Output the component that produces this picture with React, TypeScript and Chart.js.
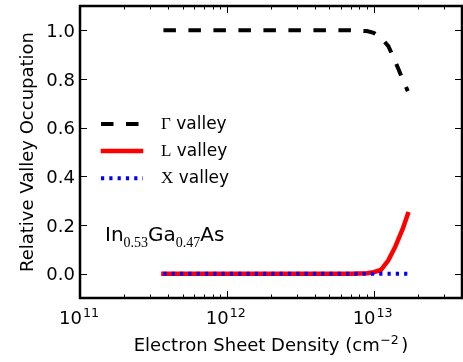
import React, { useEffect, useRef } from "react";
import { Chart, registerables } from "chart.js";

Chart.register(...registerables);

// ---- data ----
const DENSITY = [3.7e11, 5e11, 7e11, 1e12, 2e12, 3e12, 5e12, 7e12, 9e12, 1e13, 1.12e13, 1.26e13, 1.41e13, 1.58e13, 1.71e13];
const GAMMA = [1.0, 1.0, 1.0, 1.0, 1.0, 1.0, 1.0, 1.0, 0.997, 0.99, 0.97, 0.935, 0.87, 0.797, 0.75];
const L_VALLEY = [0, 0, 0, 0, 0, 0, 0, 0, 0.002, 0.006, 0.015, 0.055, 0.113, 0.185, 0.245];
const X_VALLEY = [0, 0, 0, 0, 0, 0, 0, 0, 0, 0, 0, 0, 0, 0, 0];

const X_MAJOR = [1e11, 1e12, 1e13];
const Y_TICKS = [0.0, 0.2, 0.4, 0.6, 0.8, 1.0];
const LEGEND_SYMBOLS = ["\u0393", "L", "X"];
const LEGEND_TEXT = " valley";
const Y_TITLE = "Relative Valley Occupation";
const X_TITLE_MAIN = "Electron Sheet Density (cm";
const X_TITLE_SUP = "\u22122";
const X_TITLE_END = ")";
const ANNOTATION = [
  ["In", false],
  ["0.53", true],
  ["Ga", false],
  ["0.47", true],
  ["As", false],
] as [string, boolean][];

const SANS = '"DejaVu Sans"';
const SERIF = '"Liberation Serif"';

const framePlugin = {
  id: "frame",
  afterDraw(chart: any) {
    const { ctx, chartArea: a, scales } = chart;
    const xs = scales.x;
    const ys = scales.y;
    ctx.save();
    ctx.strokeStyle = "#000";
    ctx.fillStyle = "#000";
    ctx.lineWidth = 1;
    // x ticks (major + minor), top & bottom, inward
    const drawX = (v: number, len: number) => {
      const px = Math.round(xs.getPixelForValue(v)) + 0.5;
      ctx.beginPath();
      ctx.moveTo(px, a.bottom);
      ctx.lineTo(px, a.bottom - len);
      ctx.moveTo(px, a.top);
      ctx.lineTo(px, a.top + len);
      ctx.stroke();
    };
    for (let d = 11; d <= 13; d++) {
      for (let m = 2; m <= 9; m++) {
        const v = m * Math.pow(10, d);
        if (v < xs.max) drawX(v, 3.5);
      }
    }
    X_MAJOR.forEach((v) => drawX(v, 7));
    // y ticks left & right
    Y_TICKS.forEach((v) => {
      const py = Math.round(ys.getPixelForValue(v)) + 0.5;
      ctx.beginPath();
      ctx.moveTo(a.left, py);
      ctx.lineTo(a.left + 7, py);
      ctx.moveTo(a.right, py);
      ctx.lineTo(a.right - 7, py);
      ctx.stroke();
    });
    // frame
    ctx.lineWidth = 2.5;
    ctx.strokeRect(a.left, a.top, a.right - a.left, a.bottom - a.top);

    // y tick labels
    ctx.font = `18px ${SANS}`;
    ctx.textAlign = "right";
    ctx.textBaseline = "alphabetic";
    Y_TICKS.forEach((v) => {
      const py = ys.getPixelForValue(v);
      ctx.fillText(v.toFixed(1), a.left - 5, py + 6.6);
    });
    // x tick labels 10^n
    ctx.textAlign = "left";
    X_MAJOR.forEach((v) => {
      const px = xs.getPixelForValue(v);
      const e = String(Math.round(Math.log10(v)));
      ctx.font = `18px ${SANS}`;
      const w1 = ctx.measureText("10").width;
      ctx.font = `12.6px ${SANS}`;
      const w2 = ctx.measureText(e).width;
      const x0 = px - (w1 + w2) / 2 - 1.5;
      ctx.font = `18px ${SANS}`;
      ctx.fillText("10", x0, 324);
      ctx.font = `12.6px ${SANS}`;
      ctx.fillText(e, x0 + w1 + 1, 317);
    });
    // x title
    {
      ctx.font = `18px ${SANS}`;
      const w1 = ctx.measureText(X_TITLE_MAIN).width;
      const w3 = ctx.measureText(X_TITLE_END).width;
      ctx.font = `12.6px ${SANS}`;
      const w2 = ctx.measureText(X_TITLE_SUP).width;
      const total = w1 + w2 + w3 + 3;
      const x0 = (a.left + a.right) / 2 - total / 2;
      ctx.font = `18px ${SANS}`;
      ctx.fillText(X_TITLE_MAIN, x0, 351);
      ctx.font = `12.6px ${SANS}`;
      ctx.fillText(X_TITLE_SUP, x0 + w1 + 0.5, 344);
      ctx.font = `18px ${SANS}`;
      ctx.fillText(X_TITLE_END, x0 + w1 + w2 + 3, 351);
    }
    // y title
    ctx.save();
    ctx.translate(33, (a.top + a.bottom) / 2);
    ctx.rotate(-Math.PI / 2);
    ctx.textAlign = "center";
    ctx.font = `18px ${SANS}`;
    ctx.fillText(Y_TITLE, 0, 0);
    ctx.restore();

    // legend
    const ds = chart.data.datasets;
    const rows = [124, 151, 178.3];
    ds.forEach((d: any, i: number) => {
      const cy = rows[i];
      ctx.save();
      ctx.strokeStyle = d.borderColor;
      ctx.lineWidth = d.borderWidth;
      ctx.lineCap = d.borderCapStyle || "butt";
      ctx.setLineDash(d.borderDash || []);
      ctx.beginPath();
      const inset = ctx.lineCap === "square" ? 2 : 0;
      ctx.moveTo(101 + inset, cy);
      ctx.lineTo(143 - inset, cy);
      ctx.stroke();
      ctx.restore();
      ctx.textAlign = "left";
      ctx.font = `17px ${SERIF}`;
      const sym = LEGEND_SYMBOLS[i];
      ctx.fillText(sym, 161, cy + 5);
      const ws = ctx.measureText(sym).width;
      ctx.font = `17px ${SANS}`;
      ctx.fillText(LEGEND_TEXT, 161 + ws, cy + 5);
    });

    // annotation
    let ax = 105;
    ANNOTATION.forEach(([t, sub]) => {
      ctx.font = sub ? `14px ${SERIF}` : `20px ${SANS}`;
      ctx.fillText(t, ax, sub ? 247 : 241);
      ax += ctx.measureText(t).width;
    });
    ctx.restore();
  },
};

export default function App() {
  const ref = useRef<HTMLCanvasElement>(null);
  useEffect(() => {
    document.body.style.margin = "0";
    const canvas = ref.current!;
    const chart = new Chart(canvas, {
      type: "line",
      data: {
        datasets: [
          {
            label: "\u0393 valley",
            data: DENSITY.map((d, i) => ({ x: d, y: GAMMA[i] })),
            borderColor: "#000000",
            borderWidth: 4,
            borderDash: [12.5, 12.5],
            borderCapStyle: "butt",
            pointRadius: 0,
            fill: false,
            tension: 0,
            order: 2,
          },
          {
            label: "L valley",
            data: DENSITY.map((d, i) => ({ x: d, y: L_VALLEY[i] })),
            borderColor: "#ff0000",
            borderWidth: 4.5,
            borderCapStyle: "square",
            pointRadius: 0,
            fill: false,
            tension: 0,
            order: 1,
          },
          {
            label: "X valley",
            data: DENSITY.map((d, i) => ({ x: d, y: X_VALLEY[i] })),
            borderColor: "#0000ff",
            borderWidth: 4,
            borderDash: [3.2, 5.1],
            borderCapStyle: "butt",
            pointRadius: 0,
            fill: false,
            tension: 0,
            order: 0,
          },
        ],
      },
      options: {
        animation: false,
        responsive: false,
        maintainAspectRatio: false,
        layout: { padding: { left: 80, right: 1, top: 6, bottom: 64 } },
        scales: {
          x: { type: "logarithmic", min: 1e11, max: 4e13, display: false },
          y: { type: "linear", min: -0.1, max: 1.1, display: false },
        },
        plugins: { legend: { display: false }, tooltip: { enabled: false } },
      },
      plugins: [framePlugin],
    } as any);
    return () => chart.destroy();
  }, []);
  return (
    <div style={{ position: "absolute", left: 0, top: 0, width: 463, height: 362, background: "#fff" }}>
      <canvas ref={ref} width={463} height={362} style={{ width: 463, height: 362 }} />
    </div>
  );
}
